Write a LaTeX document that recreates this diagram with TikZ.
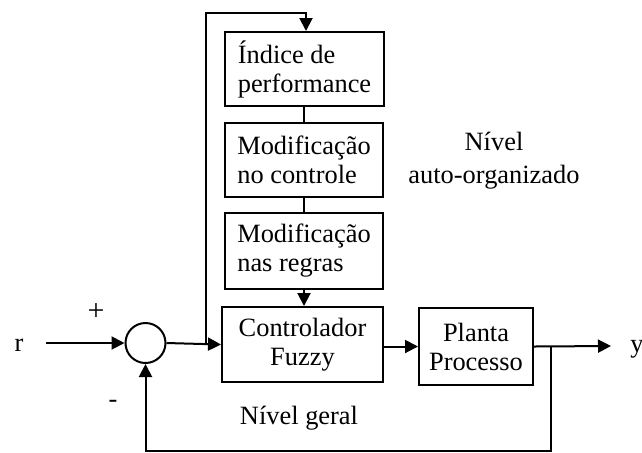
\documentclass[tikz,border=0pt]{standalone}
\usepackage{fontspec}
\setmainfont{Liberation Serif}
\usetikzlibrary{arrows.meta}
\begin{document}
\begin{tikzpicture}[x=0.5pt,y=-0.5pt,
  every node/.style={font=\fontsize{13.2}{14.5}\selectfont, inner sep=0pt},
  blk/.style={draw, line width=1pt, align=left},
  blkc/.style={draw, line width=1pt, align=center},
  wire/.style={line width=1pt},
  arr/.style={wire, -{Triangle[length=6.5pt,width=6.5pt]}},
  lbl/.style={align=center}]
\useasboundingbox (0,0) rectangle (642,452);
\node[blk, minimum width=79.5pt, minimum height=37pt] (ind) at (304.5,69) {Índice de\\performance};
\node[blk, minimum width=79pt, minimum height=37pt] (ctl) at (304,160) {Modificação\\no controle};
\node[blk, minimum width=79pt, minimum height=38pt] (reg) at (304,251) {Modificação\\nas regras};
\node[blkc, minimum width=80.5pt, minimum height=37.5pt] (fuz) at (302.5,344.5) {Controlador\\Fuzzy};
\node[blkc, minimum width=57pt, minimum height=38.5pt] (pla) at (476,346.5) {Planta\\Processo};
\node[draw, circle, line width=1pt, minimum size=20pt] (sum) at (145.5,343) {};
\coordinate (rin) at (46,343);
\coordinate (split) at (206,343);
\coordinate (tl) at (206,13);
\coordinate (tr) at (306,13);
\coordinate (yout) at (611,346);
\coordinate (tap) at (551,346);
\coordinate (bl) at (145.5,451);
\coordinate (br) at (551,451);
\node (r) at (19,345) {r};
\node (y) at (637,349) {y};
\node[font=\fontsize{15}{15}\selectfont] (plus) at (96,312) {+};
\node (minus) at (113,404) {-};
\node[lbl] (ng) at (299,418) {Nível geral};
\node[lbl, font=\fontsize{13.2}{16.5}\selectfont] (na) at (494,161) {Nível\\auto-organizado};
\draw[arr] (rin) -- (sum.west);
\draw[arr] (sum.east) -- (fuz.west);
\draw[arr] (split) -- (tl) -- (tr) -- (tr |- ind.north);
\draw[wire] (ind.south -| ctl.north) -- (ctl.north);
\draw[wire] (ctl.south) -- (reg.north);
\draw[arr] (reg.south) -- (reg.south |- fuz.north);
\draw[arr] (fuz.east |- pla.west) -- (pla.west);
\draw[arr] (pla.east) -- (yout);
\draw[arr] (tap) -- (br) -- (bl) -- (sum.south);
\end{tikzpicture}
\end{document}
